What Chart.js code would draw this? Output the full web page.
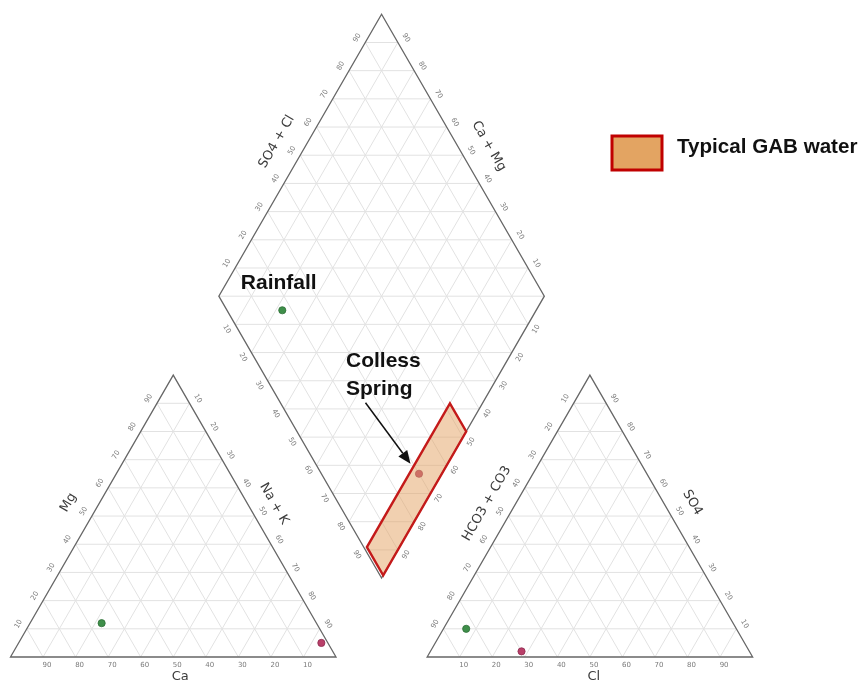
<!DOCTYPE html>
<html>
<head>
<meta charset="utf-8">
<script src="https://cdn.jsdelivr.net/npm/chart.js@4.4.1/dist/chart.umd.min.js"></script>
<style>
  html, body { margin: 0; padding: 0; background: #ffffff; }
  #wrap { width: 861px; height: 682px; }
</style>
</head>
<body>
<div id="wrap"><canvas id="piper" width="861" height="682"></canvas></div>
<script>
// ---- Sample chemistry (% of meq) ----
const sampleNames = ['Rainfall', 'Colless Spring'];
const caPct   = [66, 2];
const mgPct   = [12, 5];
const naKPct  = [22, 93];
const hco3Pct = [83, 70];
const so4Pct  = [10, 2];
const clPct   = [7, 28];
const sampleColors = ['#3f8f4a', '#b93f69'];
const sampleEdges  = ['#2d6e36', '#8e2b4f'];

// ---- Axis ticks ----
const tickValues = [10, 20, 30, 40, 50, 60, 70, 80, 90];

// ---- Typical GAB water field on the diamond (Na+K %, SO4+Cl %) ----
const gabNaK   = [90, 100];
const gabSO4Cl = [1, 52];
const gabLabel = 'Typical GAB water';

// ---- Piper geometry (data units: triangle side = 100) ----
const GAP = 28;
const OFF = 100 + GAP;
const H = Math.sqrt(3) / 2;
const PX = 3.255;          // pixels per data unit
const X0 = 10.5, Y0 = 657; // pixel position of the cation triangle's lower-left corner

function cationXY(ca, mg, nak) {
  const s = ca + mg + nak;
  return { x: 100 * (nak + mg / 2) / s, y: 100 * mg * H / s };
}
function anionXY(hco3, so4, cl) {
  const s = hco3 + so4 + cl;
  return { x: OFF + 100 * (cl + so4 / 2) / s, y: 100 * so4 * H / s };
}
function diamondXY(a, b) {
  return { x: (OFF + a + b) / 2, y: H * (OFF + b - a) };
}

const datasets = sampleNames.map((name, i) => {
  const tot = caPct[i] + mgPct[i] + naKPct[i];
  const atot = hco3Pct[i] + so4Pct[i] + clPct[i];
  const a = 100 * naKPct[i] / tot;
  const b = 100 * (so4Pct[i] + clPct[i]) / atot;
  return {
    label: name,
    data: [
      cationXY(caPct[i], mgPct[i], naKPct[i]),
      anionXY(hco3Pct[i], so4Pct[i], clPct[i]),
      diamondXY(a, b)
    ],
    pointRadius: 3.6,
    pointBackgroundColor: sampleColors[i],
    pointBorderColor: sampleEdges[i],
    pointBorderWidth: 0.8,
    showLine: false
  };
});

function drawRotText(ctx, text, x, y, deg) {
  ctx.save();
  ctx.translate(x, y);
  ctx.rotate(deg * Math.PI / 180);
  ctx.fillText(text, 0, 0);
  ctx.restore();
}

const piperFrame = {
  id: 'piperFrame',
  beforeDatasetsDraw(chart) {
    const ctx = chart.ctx;
    const xs = chart.scales.x, ys = chart.scales.y;
    const P = (x, y) => [xs.getPixelForValue(x), ys.getPixelForValue(y)];
    const line = (p, q) => {
      const a = P(p[0], p[1]), b = P(q[0], q[1]);
      ctx.beginPath(); ctx.moveTo(a[0], a[1]); ctx.lineTo(b[0], b[1]); ctx.stroke();
    };
    const poly = pts => {
      ctx.beginPath();
      pts.forEach((p, k) => { const q = P(p[0], p[1]); if (k) ctx.lineTo(q[0], q[1]); else ctx.moveTo(q[0], q[1]); });
      ctx.closePath(); ctx.stroke();
    };

    ctx.save();
    // ---- grid ----
    ctx.strokeStyle = '#e2e2e2';
    ctx.lineWidth = 1;
    for (const x0 of [0, OFF]) {
      tickValues.forEach(v => {
        line([x0 + v / 2, v * H], [x0 + 100 - v / 2, v * H]);
        line([x0 + v, 0], [x0 + v + (100 - v) / 2, (100 - v) * H]);
        line([x0 + v, 0], [x0 + v / 2, v * H]);
      });
    }
    tickValues.forEach(v => {
      line([diamondXY(v, 0).x, diamondXY(v, 0).y], [diamondXY(v, 100).x, diamondXY(v, 100).y]);
      line([diamondXY(0, v).x, diamondXY(0, v).y], [diamondXY(100, v).x, diamondXY(100, v).y]);
    });
    const cx = OFF / 2 + 50, yB = H * GAP, yM = H * (100 + GAP), yT = H * (200 + GAP);
    for (let k = 1; k <= 19; k++) {
      const y = H * (GAP + 10 * k);
      const hw = (y <= yM ? (y - yB) : (yT - y)) / H * 0.5;
      line([cx - hw, y], [cx + hw, y]);
    }

    // ---- outlines ----
    ctx.strokeStyle = '#666666';
    ctx.lineWidth = 1.3;
    poly([[0, 0], [100, 0], [50, 100 * H]]);
    poly([[OFF, 0], [OFF + 100, 0], [OFF + 50, 100 * H]]);
    const dL = diamondXY(0, 0), dB = diamondXY(100, 0), dR = diamondXY(100, 100), dT = diamondXY(0, 100);
    poly([[dL.x, dL.y], [dB.x, dB.y], [dR.x, dR.y], [dT.x, dT.y]]);

    // ---- tick labels ----
    ctx.fillStyle = '#7a7a7a';
    ctx.font = '7px "DejaVu Sans"';
    ctx.textAlign = 'center';
    ctx.textBaseline = 'middle';
    const d = 9.5;
    const NL = [-H, -0.5], NR = [H, -0.5], NLL = [-H, 0.5], NLR = [H, 0.5];
    const tick = (text, x, y, n, rot) => {
      const p = P(x, y);
      drawRotText(ctx, text, p[0] + n[0] * d, p[1] + n[1] * d, rot);
    };
    tickValues.forEach(v => {
      let p = P(100 - v, 0); drawRotText(ctx, String(v), p[0] + 4, p[1] + 8.5, 0);        // Ca
      tick(String(v), v / 2, v * H, NL, -60);                                                // Mg
      tick(String(v), v + (100 - v) / 2, (100 - v) * H, NR, 60);                             // Na+K
      p = P(OFF + v, 0); drawRotText(ctx, String(v), p[0] + 4, p[1] + 8.5, 0);              // Cl
      tick(String(v), OFF + (100 - v) / 2, (100 - v) * H, NL, -60);                           // HCO3+CO3
      tick(String(v), OFF + 100 - v / 2, v * H, NR, 60);                                     // SO4
      let q = diamondXY(0, v);   tick(String(v), q.x, q.y, NL, -60);                         // SO4+Cl
      q = diamondXY(100 - v, 100); tick(String(v), q.x, q.y, NR, 60);                        // Ca+Mg
      q = diamondXY(v, 0);       tick(String(v), q.x, q.y, NLL, 60);                         // Na+K
      q = diamondXY(100, 100 - v); tick(String(v), q.x, q.y, NLR, -60);                      // HCO3+CO3
    });

    // ---- axis titles (edge midpoint, pushed outward; along = shift down the edge, px) ----
    ctx.fillStyle = '#3c3c3c';
    ctx.font = '13px "DejaVu Sans"';
    const title = (text, x, y, n, dd, along, rot) => {
      const p = P(x, y);
      const ex = 0.5, ey = rot > 0 ? H : -H;
      const sgn = rot > 0 ? 1 : -1;
      drawRotText(ctx, text,
        p[0] + n[0] * dd + sgn * ex * along,
        p[1] + n[1] * dd + sgn * ey * along, rot);
    };
    title('Mg', 25, 50 * H, NL, 27, 0, -60);
    title('Na + K', 75, 50 * H, NR, 23, -1, 60);
    title('HCO3 + CO3', OFF + 25, 50 * H, NL, 25, 0, -60);
    title('SO4', OFF + 75, 50 * H, NR, 25, -1, 60);
    let m = diamondXY(0, 50); title('SO4 + Cl', m.x, m.y, NL, 27, 0, -60);
    m = diamondXY(50, 100); title('Ca + Mg', m.x, m.y, NR, 27, 5, 60);
    ctx.textBaseline = 'top';
    let b = P(50, 0); ctx.fillText('Ca', b[0] + 7, b[1] + 13);
    b = P(OFF + 50, 0); ctx.fillText('Cl', b[0] + 4, b[1] + 13);
    ctx.restore();
  },
  afterDatasetsDraw(chart) {
    const ctx = chart.ctx;
    const xs = chart.scales.x, ys = chart.scales.y;
    const P = (x, y) => [xs.getPixelForValue(x), ys.getPixelForValue(y)];
    ctx.save();

    // ---- GAB water field ----
    const corners = [
      diamondXY(gabNaK[0], gabSO4Cl[0]), diamondXY(gabNaK[1], gabSO4Cl[0]),
      diamondXY(gabNaK[1], gabSO4Cl[1]), diamondXY(gabNaK[0], gabSO4Cl[1])
    ];
    ctx.beginPath();
    corners.forEach((c, k) => { const q = P(c.x, c.y); if (k) ctx.lineTo(q[0], q[1]); else ctx.moveTo(q[0], q[1]); });
    ctx.closePath();
    ctx.fillStyle = 'rgba(228, 161, 98, 0.5)';
    ctx.fill();
    ctx.strokeStyle = '#c41a1a';
    ctx.lineWidth = 2.4;
    ctx.lineJoin = 'miter';
    ctx.stroke();

    // ---- annotations ----
    const meta0 = chart.getDatasetMeta(0).data[2];
    const meta1 = chart.getDatasetMeta(1).data[2];
    ctx.fillStyle = '#111111';
    ctx.font = 'bold 21px "Liberation Sans"';
    ctx.textAlign = 'left';
    ctx.textBaseline = 'alphabetic';
    ctx.fillText(sampleNames[0], meta0.x - 41.5, meta0.y - 21);
    const parts = sampleNames[1].split(' ');
    ctx.fillText(parts[0], meta1.x - 73, meta1.y - 107);
    ctx.fillText(parts[1], meta1.x - 73, meta1.y - 79);

    // arrow to the Colless Spring point
    const tx = meta1.x - 8.5, ty = meta1.y - 10;
    const sx = tx - 45, sy = ty - 61;
    const ang = Math.atan2(ty - sy, tx - sx);
    const hl = 13, hw = 5.5;
    const bx = tx - hl * Math.cos(ang), by = ty - hl * Math.sin(ang);
    ctx.strokeStyle = '#111111';
    ctx.lineWidth = 1.5;
    ctx.beginPath(); ctx.moveTo(sx, sy); ctx.lineTo(bx, by); ctx.stroke();
    ctx.beginPath();
    ctx.moveTo(tx, ty);
    ctx.lineTo(bx + hw * Math.sin(ang), by - hw * Math.cos(ang));
    ctx.lineTo(bx - hw * Math.sin(ang), by + hw * Math.cos(ang));
    ctx.closePath();
    ctx.fillStyle = '#111111';
    ctx.fill();

    // ---- legend ----
    ctx.fillStyle = '#e3a462';
    ctx.fillRect(612, 136, 50, 34);
    ctx.strokeStyle = '#c00000';
    ctx.lineWidth = 3;
    ctx.strokeRect(612, 136, 50, 34);
    ctx.fillStyle = '#111111';
    ctx.font = 'bold 20.6px "Liberation Sans"';
    ctx.fillText(gabLabel, 677, 153);
    ctx.restore();
  }
};

const xMin = -X0 / PX, xMax = xMin + 861 / PX;
const yMax = Y0 / PX, yMin = yMax - 682 / PX;

new Chart(document.getElementById('piper'), {
  type: 'scatter',
  data: { datasets },
  options: {
    responsive: false,
    animation: false,
    devicePixelRatio: 1,
    layout: { padding: 0, autoPadding: false },
    scales: {
      x: { type: 'linear', min: xMin, max: xMax, display: false },
      y: { type: 'linear', min: yMin, max: yMax, display: false }
    },
    plugins: { legend: { display: false }, tooltip: { enabled: false }, title: { display: false } }
  },
  plugins: [piperFrame]
});
</script>
</body>
</html>
